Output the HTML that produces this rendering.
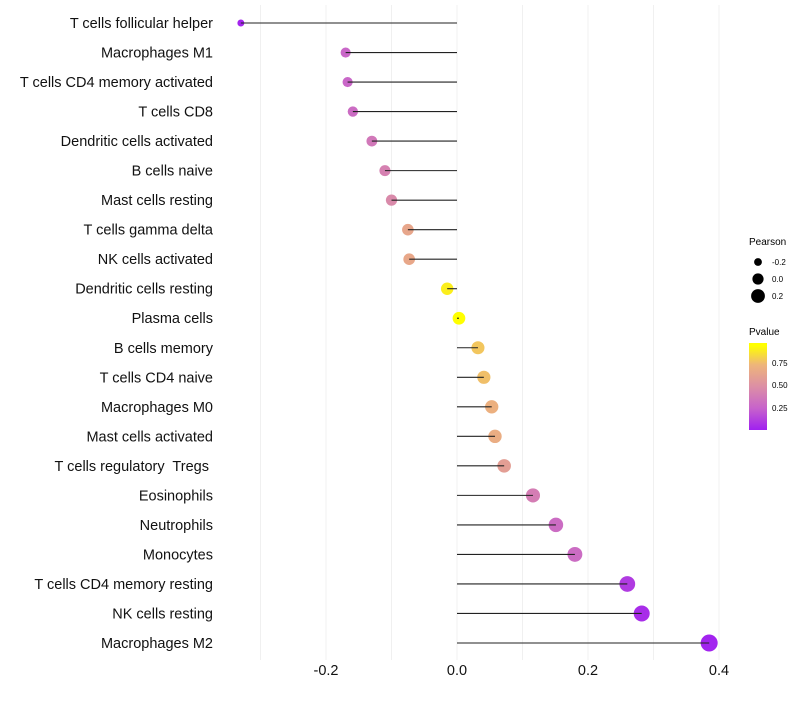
<!DOCTYPE html>
<html><head><meta charset="utf-8"><style>
body{margin:0;background:#fff;font-family:"Liberation Sans",sans-serif}
text{white-space:pre}
</style></head><body>
<svg id="chart" width="800" height="700" xmlns="http://www.w3.org/2000/svg" font-family="Liberation Sans, sans-serif">
<defs><linearGradient id="pg" x1="0" y1="1" x2="0" y2="0">
<stop offset="0" stop-color="#a020f0"/><stop offset="0.25" stop-color="#c763cb"/><stop offset="0.5" stop-color="#dc8fa5"/><stop offset="0.75" stop-color="#eeb57a"/><stop offset="0.97" stop-color="#ffff00"/></linearGradient></defs>
<g id="grid"></g>
<g id="marks"></g>
<g id="ylabels"></g>
<g id="xlabels"></g>
<g font-size="10">
<text x="749" y="245">Pearson</text>
<circle cx="758" cy="262" r="3.9" fill="#000"/><text x="772" y="265" font-size="8">-0.2</text>
<circle cx="758" cy="279" r="5.6" fill="#000"/><text x="772" y="282" font-size="8">0.0</text>
<circle cx="758" cy="296" r="6.9" fill="#000"/><text x="772" y="299" font-size="8">0.2</text>
</g>
<g font-size="8">
<text x="749" y="335" font-size="10">Pvalue</text>
<rect x="749" y="343" width="18" height="87" fill="url(#pg)"/>
<text x="772" y="366">0.75</text><text x="772" y="388">0.50</text><text x="772" y="411">0.25</text>
</g>
</svg>
<script>
const categories=["T cells follicular helper","Macrophages M1","T cells CD4 memory activated","T cells CD8","Dendritic cells activated","B cells naive","Mast cells resting","T cells gamma delta","NK cells activated","Dendritic cells resting","Plasma cells","B cells memory","T cells CD4 naive","Macrophages M0","Mast cells activated","T cells regulatory  Tregs ","Eosinophils","Neutrophils","Monocytes","T cells CD4 memory resting","NK cells resting","Macrophages M2"];
const pearson=[-0.33,-0.17,-0.167,-0.159,-0.13,-0.11,-0.10,-0.075,-0.073,-0.015,0.003,0.032,0.041,0.053,0.058,0.072,0.116,0.151,0.18,0.26,0.282,0.385];
const pvalue=[0.02,0.27,0.27,0.3,0.37,0.42,0.47,0.65,0.66,0.92,0.99,0.8,0.78,0.72,0.7,0.6,0.4,0.3,0.3,0.1,0.05,0.01];
const xTicks=[-0.2,0,0.2,0.4];
const NS="http://www.w3.org/2000/svg";
const x=v=>457+655*v;
const y=i=>23+i*(620/21);
const rad=v=>Math.sqrt(Math.max(1,40+84.5*v));
const stops=[[0,[160,32,240]],[0.25,[199,99,203]],[0.5,[220,143,165]],[0.75,[238,181,122]],[0.97,[255,255,0]]];
function col(p){p=Math.min(0.97,Math.max(0,p));for(let k=0;k<stops.length-1;k++){const a=stops[k],b=stops[k+1];if(p<=b[0]){const t=(p-a[0])/(b[0]-a[0]);return "rgb("+a[1].map((c,j)=>Math.round(c+(b[1][j]-c)*t)).join(",")+")";}}return "rgb(255,255,0)";}
function mk(tag,at,parent){const e=document.createElementNS(NS,tag);for(const k in at)e.setAttribute(k,at[k]);parent.appendChild(e);return e;}
const grid=document.getElementById('grid');
for(let v=-0.3;v<=0.41;v+=0.1){const g=mk('line',{x1:x(v),x2:x(v),y1:5,y2:660,stroke:'#f0f0f0','stroke-width':1},grid);

}
const marks=document.getElementById('marks');
categories.forEach((c,i)=>{
const cc=mk('circle',{cx:x(pearson[i]),cy:y(i),r:rad(pearson[i]),fill:col(pvalue[i])},marks);


const l=mk('line',{x1:x(0),x2:x(pearson[i]),y1:y(i),y2:y(i),stroke:'#222','stroke-width':1.1},marks);


const t=mk('text',{x:213,y:y(i)+5,'text-anchor':'end','font-size':14.5,fill:'#111'},document.getElementById('ylabels'));
t.textContent=c;


});
xTicks.forEach(v=>{const t=mk('text',{x:x(v),y:675,'text-anchor':'middle','font-size':14.5,fill:'#111'},document.getElementById('xlabels'));
t.textContent=v===0?"0.0":v.toFixed(1);

});
</script>
</body></html>
